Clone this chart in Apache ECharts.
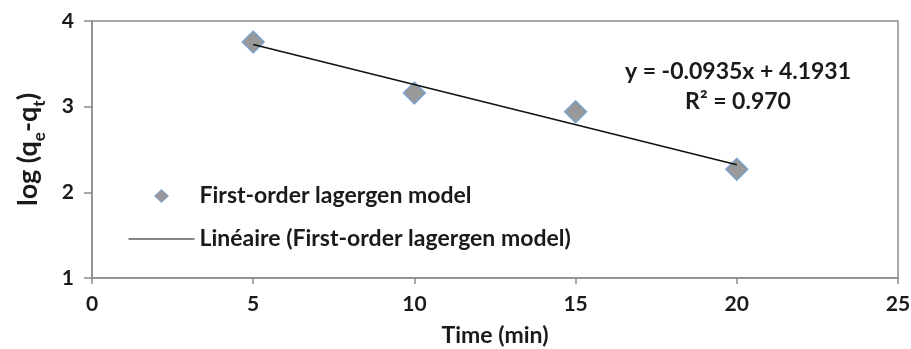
<!DOCTYPE html>
<html>
<head>
<meta charset="utf-8">
<script src="https://cdn.jsdelivr.net/npm/echarts@6/dist/echarts.min.js"></script>
<style>
  html, body { margin: 0; padding: 0; background: #fff; }
  #chart { width: 911px; height: 349px; }
</style>
</head>
<body>
<div id="chart"></div>
<script>
// Kinetic data: time (min) vs log(qe - qt)
const timeMin = [5, 10, 15, 20];
const logQ = [3.755, 3.16, 2.94, 2.27];

// Linear fit as reported on the chart
const fitSlope = -0.0935;
const fitIntercept = 4.1931;
const fitR2 = '0.970';
const fitRange = [5, 20];

const xTicks = [0, 25, 5];   // min, max, interval
const yTicks = [1, 4, 1];

const seriesName = 'First-order lagergen model';
const fitName = 'Linéaire (First-order lagergen model)';

const fitPoints = fitRange.map(x => [x, fitSlope * x + fitIntercept]);

const FONT = 'Lato';
const TEXT = '#1a1a1a';
const axisGray = '#8c8c8c';

// Legend icons sized to a 66x14 box: a small centred diamond, and a thin rule
const diamondIcon = 'path://M0,0 M66,14 M26,7 L33,0.5 L40,7 L33,13.5 Z';
const ruleIcon = 'path://M0,6.4 L66,6.4 L66,7.6 L0,7.6 Z';

const chart = echarts.init(document.getElementById('chart'));
chart.setOption({
  animation: false,
  backgroundColor: '#ffffff',
  textStyle: { fontFamily: FONT, fontWeight: 'bold', color: TEXT },
  grid: {
    left: 92, right: 13, top: 21, bottom: 71,
    outerBoundsMode: 'none',
    containLabel: false,
    show: true, borderColor: axisGray, borderWidth: 1.5
  },
  legend: {
    orient: 'vertical',
    left: 123, top: 179,
    itemWidth: 66, itemHeight: 14,
    itemGap: 19,
    textStyle: { fontFamily: FONT, fontWeight: 'bold', fontSize: 23, color: TEXT, lineHeight: 24 },
    data: [
      { name: seriesName, icon: diamondIcon, itemStyle: { color: '#7f7f7f', borderColor: '#6a9bd6', borderWidth: 1 } },
      { name: fitName, icon: ruleIcon, itemStyle: { color: '#111111', borderWidth: 0 } }
    ]
  },
  xAxis: {
    type: 'value',
    min: xTicks[0], max: xTicks[1], interval: xTicks[2],
    name: 'Time (min)',
    nameLocation: 'middle', nameGap: 46,
    nameTextStyle: { fontFamily: FONT, fontWeight: 'bold', fontSize: 23, color: TEXT },
    axisLine: { lineStyle: { color: axisGray, width: 1.5 } },
    axisTick: { show: true, inside: false, length: 6, lineStyle: { color: axisGray, width: 1.5 } },
    axisLabel: { margin: 16, fontFamily: FONT, fontWeight: 'bold', fontSize: 21, color: TEXT },
    splitLine: { show: false }
  },
  yAxis: {
    type: 'value',
    min: yTicks[0], max: yTicks[1], interval: yTicks[2],
    name: '{n|log (q}{s|e}{n|-q}{s|t}{n|)}',
    nameLocation: 'middle', nameGap: 50, nameRotate: 90,
    nameTextStyle: {
      rich: {
        n: { fontFamily: FONT, fontWeight: 'bold', fontSize: 27, color: TEXT, lineHeight: 32, verticalAlign: 'bottom' },
        s: { fontFamily: FONT, fontWeight: 'bold', fontSize: 17, color: TEXT, lineHeight: 32, verticalAlign: 'bottom', padding: [0, 0, -6, 0] }
      }
    },
    axisLine: { show: true, lineStyle: { color: axisGray, width: 1.5 } },
    axisTick: { show: true, inside: false, length: 8, lineStyle: { color: axisGray, width: 1.5 } },
    axisLabel: { margin: 18, fontFamily: FONT, fontWeight: 'bold', fontSize: 21, color: TEXT },
    splitLine: { show: false }
  },
  graphic: [
    {
      type: 'text', x: 738, y: 72,
      style: {
        text: 'y = ' + fitSlope + 'x + ' + fitIntercept,
        fontFamily: FONT, fontWeight: 'bold', fontSize: 23, fill: TEXT,
        textAlign: 'center', textVerticalAlign: 'middle'
      }
    },
    {
      type: 'text', x: 738, y: 102,
      style: {
        text: 'R² = ' + fitR2,
        fontFamily: FONT, fontWeight: 'bold', fontSize: 23, fill: TEXT,
        textAlign: 'center', textVerticalAlign: 'middle'
      }
    }
  ],
  series: [
    {
      name: seriesName,
      type: 'scatter',
      symbol: 'diamond',
      symbolSize: 22,
      itemStyle: { color: '#7f7f7f', borderColor: '#6a9bd6', borderWidth: 1.5 },
      data: timeMin.map((t, i) => [t, logQ[i]]),
      z: 3
    },
    {
      name: fitName,
      type: 'line',
      symbol: 'none',
      lineStyle: { color: '#111111', width: 1.5 },
      itemStyle: { color: '#111111' },
      data: fitPoints,
      z: 4
    }
  ]
});
</script>
</body>
</html>
